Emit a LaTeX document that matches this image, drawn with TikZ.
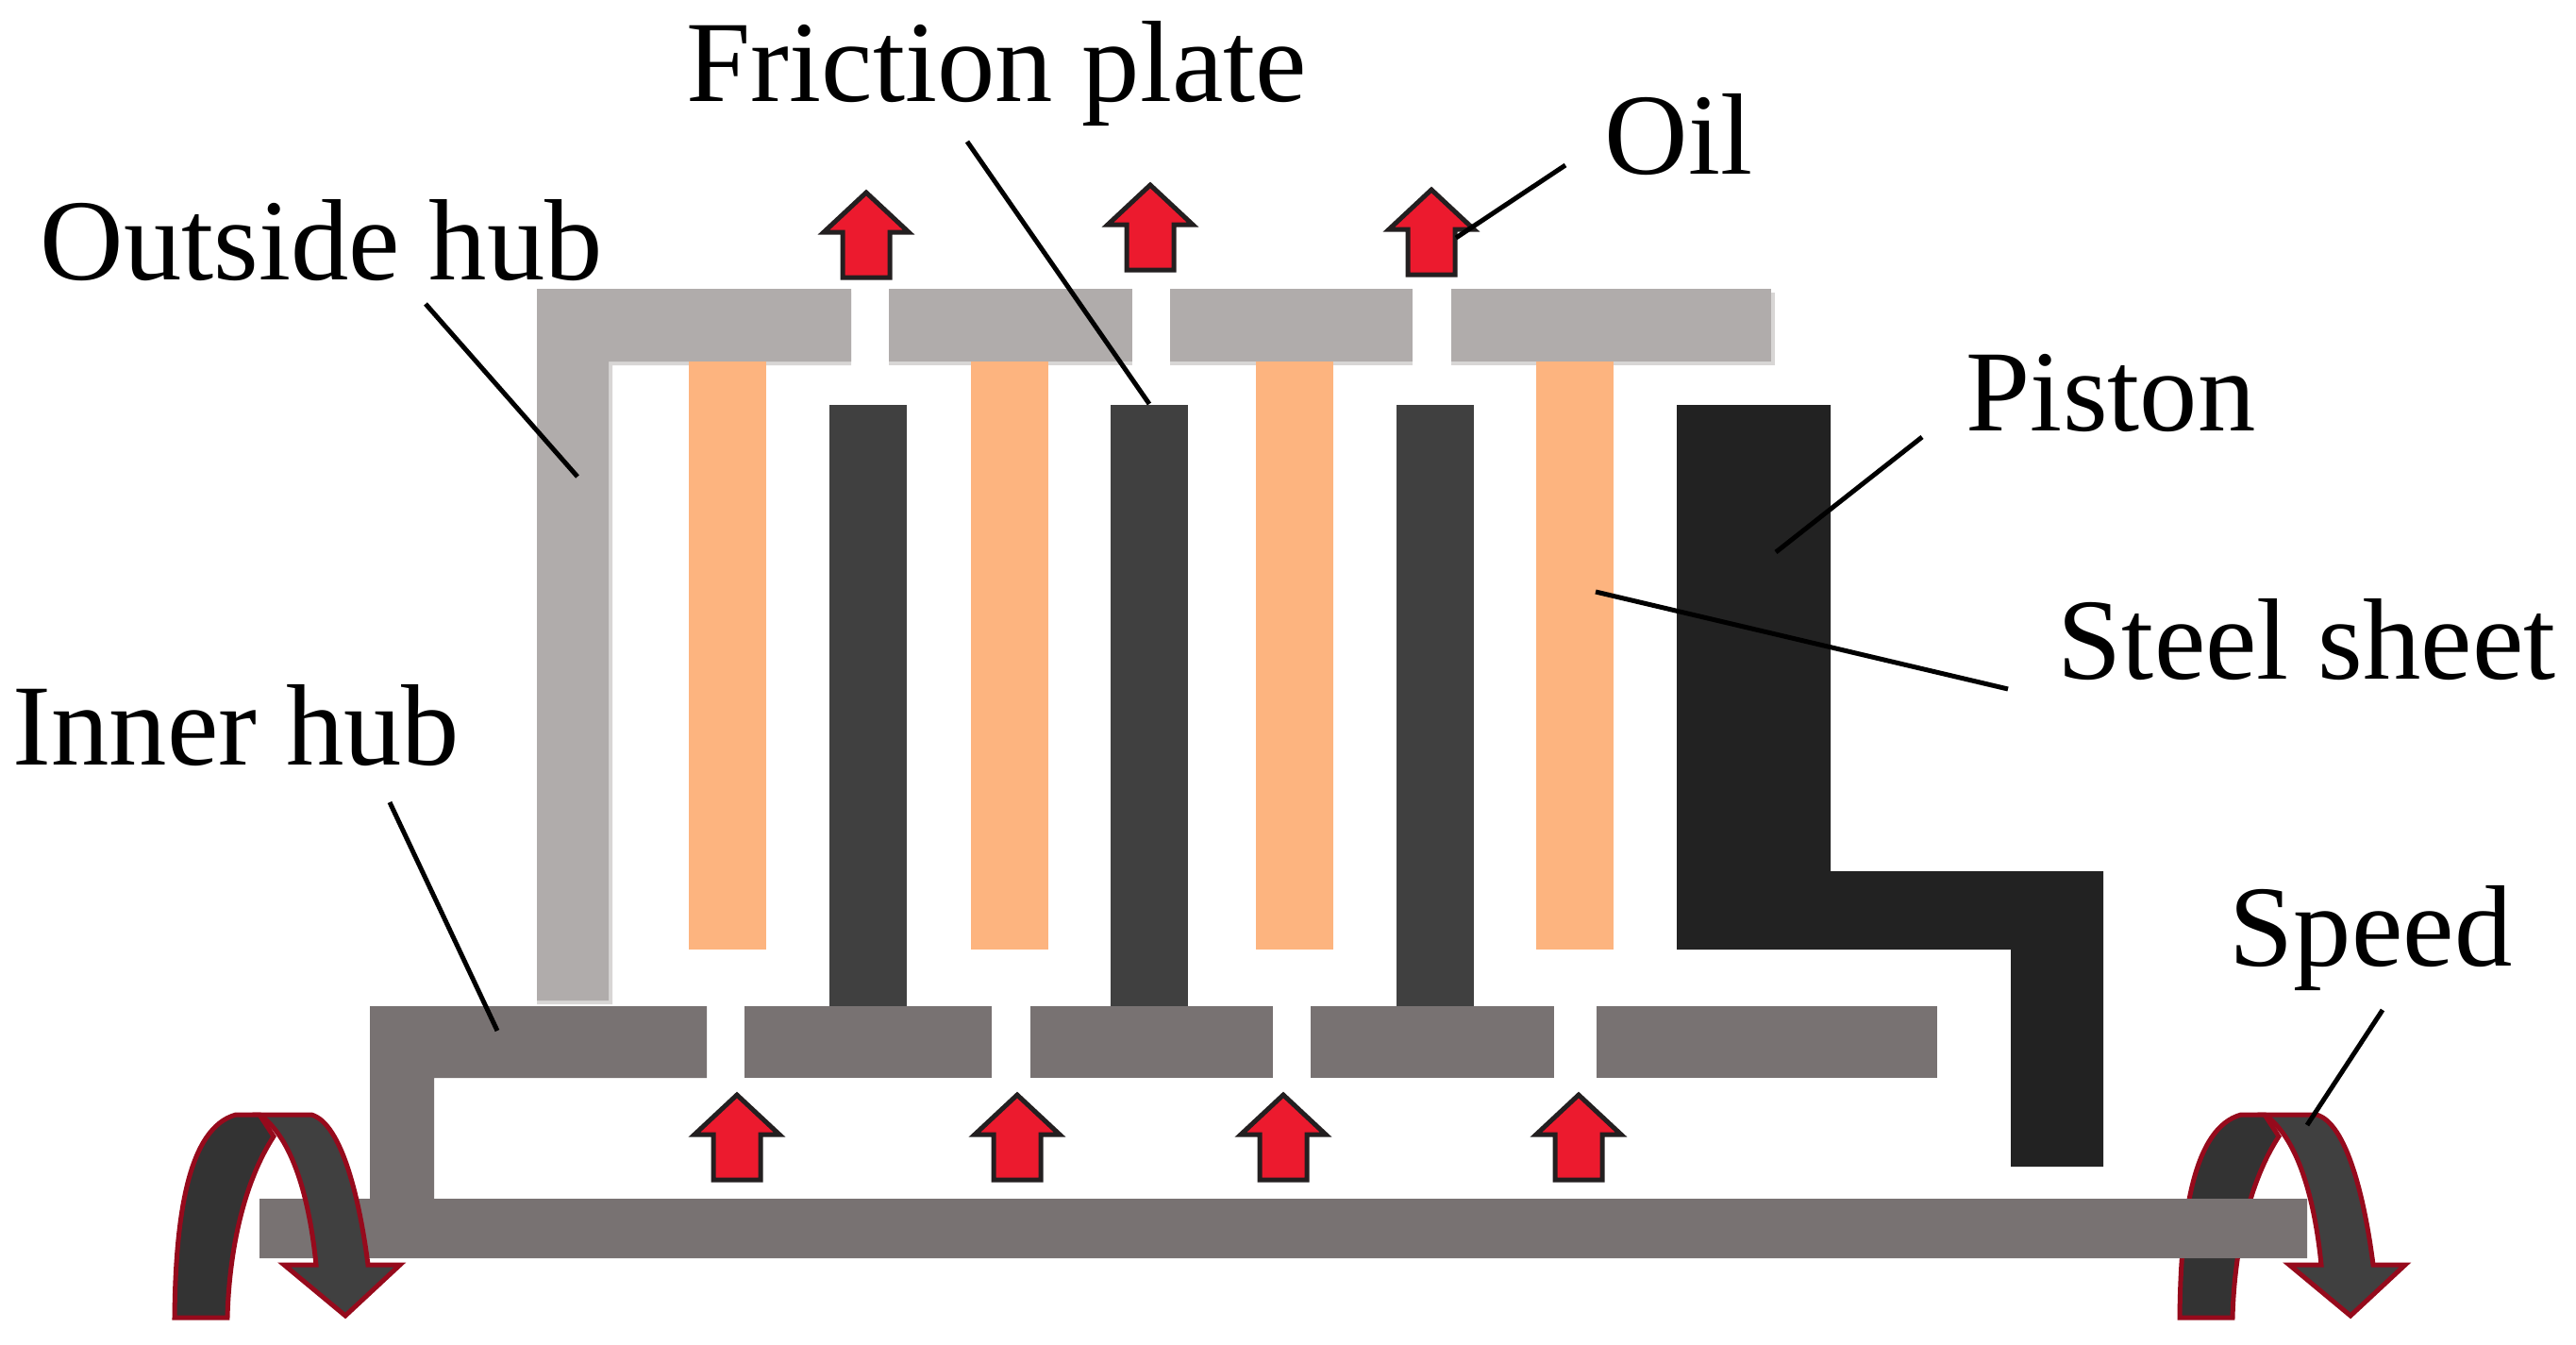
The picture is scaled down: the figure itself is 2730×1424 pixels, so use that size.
\documentclass[tikz,border=0pt]{standalone}
\usepackage{fontspec}
\setmainfont{Liberation Serif}
\definecolor{outerhubcol}{HTML}{B0ACAB}
\definecolor{outerhalocol}{HTML}{D8D6D5}
\definecolor{innerhubcol}{HTML}{787272}
\definecolor{sheetcol}{HTML}{FDB47F}
\definecolor{platecol}{HTML}{404040}
\definecolor{pistoncol}{HTML}{222222}
\definecolor{oilcol}{HTML}{EC1A2E}
\definecolor{oiledgecol}{HTML}{231F20}
\definecolor{turncol}{HTML}{960A1C}
\tikzset{
	lab/.style={font=\fontsize{30.65}{36}\selectfont, anchor=base west, inner sep=0pt},
	leader/.style={black, line width=1.25pt},
	oilarrow/.style={fill=oilcol, draw=oiledgecol, line width=1.25pt, line join=miter},
	turnband/.style={draw=turncol, line width=1.25pt, line join=miter},
	pics/speedarrow/.style={code={
		\draw[turnband, fill=platecol!80!black] (185,1396) .. controls (186,1290) and (199,1195) .. (250,1181) -- (275,1181) -- (290,1204) .. controls (260,1250) and (243,1320) .. (241,1396) -- cycle;
		\draw[turnband, fill=platecol] (275,1181) -- (330,1181) .. controls (362,1190) and (381,1270) .. (390,1340) -- (424,1340) -- (366,1394) -- (301,1340) -- (335,1340) .. controls (328,1270) and (310,1205) .. (275,1181) -- cycle;
	}}
}
\begin{document}
\begin{tikzpicture}[x=0.25pt, y=-0.25pt]
	\useasboundingbox (0,0) rectangle (2730,1424);
	% outside hub
	\fill[outerhalocol] (569,310) -- (902,310) -- (902,387) -- (649,387) -- (649,1064) -- (569,1064) -- cycle;
	\foreach \a/\b in {942/1200, 1240/1497, 1538/1881} {\fill[outerhalocol] (\a,310) rectangle (\b,387);}
	\fill[outerhubcol] (569,306) -- (902,306) -- (902,383) -- (645,383) -- (645,1060) -- (569,1060) -- cycle;
	\foreach \a/\b in {942/1200, 1240/1497, 1538/1877} {\fill[outerhubcol] (\a,306) rectangle (\b,383);}
	% steel sheets and friction plates
	\foreach \a in {730,1029,1331,1628} {\fill[sheetcol] (\a,383) rectangle ++(82,623);}
	\foreach \a in {879,1177,1480} {\fill[platecol] (\a,429) rectangle ++(82,637);}
	% piston
	\fill[pistoncol] (1777,429) -- (1940,429) -- (1940,923) -- (2229,923) -- (2229,1236) -- (2131,1236) -- (2131,1006) -- (1777,1006) -- cycle;
	% right turn arrow goes behind the shaft, left one in front
	\pic at (2125,0) {speedarrow};
	\fill[innerhubcol] (392,1066) -- (749,1066) -- (749,1142) -- (460,1142) -- (460,1270) -- (2445,1270) -- (2445,1333) -- (275,1333) -- (275,1270) -- (392,1270) -- cycle;
	\foreach \a/\b in {789/1051, 1092/1349, 1389/1647, 1692/2053} {\fill[innerhubcol] (\a,1066) rectangle (\b,1142);}
	\pic at (0,0) {speedarrow};
	% oil
	\foreach \c/\t in {918/204, 1219/196, 1517/201, 781/1160, 1078/1160, 1360/1160, 1673/1160}
		{\draw[oilarrow] (\c,\t) -- ++(45,42) -- ++(-20,0) -- ++(0,48) -- ++(-50,0) -- ++(0,-48) -- ++(-20,0) -- cycle;}
	% labels
	\node[lab] (lblFriction) at (727,108) {Friction plate};
	\node[lab] (lblOil) at (1700,184) {Oil};
	\node[lab] (lblOutside) at (42,296) {Outside hub};
	\node[lab] (lblPiston) at (2083,456) {Piston};
	\node[lab] (lblSteel) at (2180,719) {Steel sheet};
	\node[lab] (lblInner) at (13,810) {Inner hub};
	\node[lab] (lblSpeed) at (2362,1023) {Speed};
	\coordinate (tipFriction) at (1218,428);
	\coordinate (tipOil) at (1543,252);
	\coordinate (tipOutside) at (612,505);
	\coordinate (tipPiston) at (1882,585);
	\coordinate (tipSteel) at (1691,627);
	\coordinate (tipInner) at (527,1092);
	\coordinate (tipSpeed) at (2445,1192);
	\draw[leader] ([shift={(298,42)}]lblFriction.base west) -- (tipFriction);
	\draw[leader] ([shift={(-41,-9)}]lblOil.base west) -- (tipOil);
	\draw[leader] ([shift={(409,26)}]lblOutside.base west) -- (tipOutside);
	\draw[leader] ([shift={(-46,7)}]lblPiston.base west) -- (tipPiston);
	\draw[leader] ([shift={(-52,11)}]lblSteel.base west) -- (tipSteel);
	\draw[leader] ([shift={(400,40)}]lblInner.base west) -- (tipInner);
	\draw[leader] ([shift={(163,47)}]lblSpeed.base west) -- (tipSpeed);
\end{tikzpicture}
\end{document}
